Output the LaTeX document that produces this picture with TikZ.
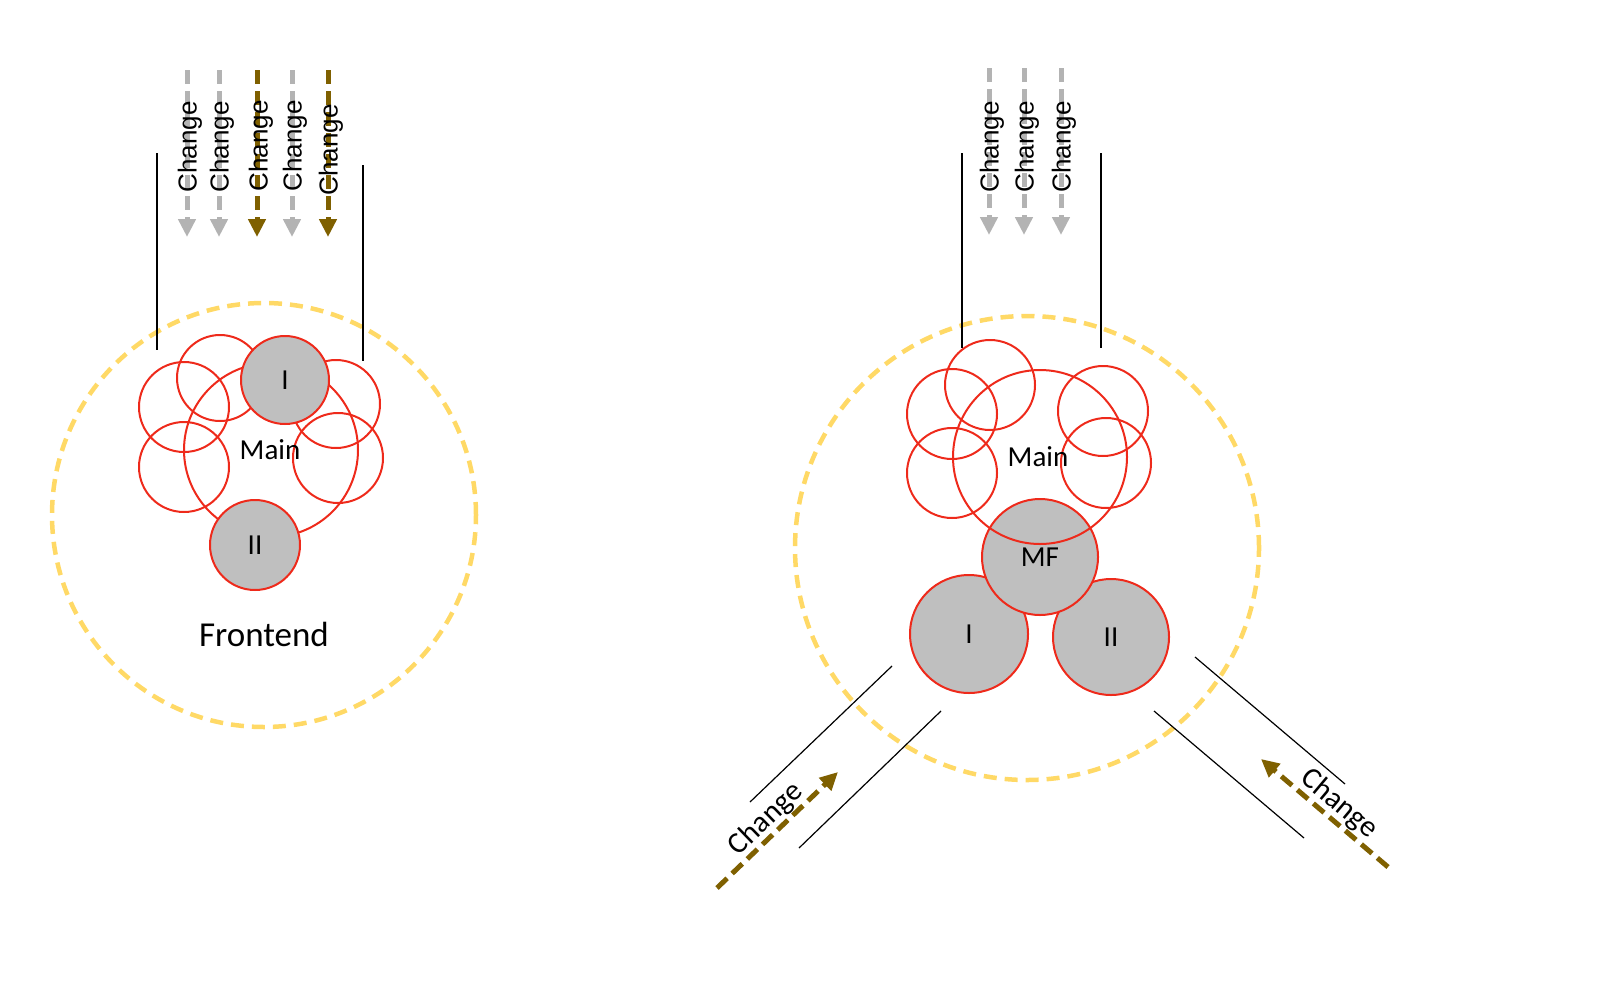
\documentclass[tikz,border=0pt]{standalone}
\usepackage{fontspec}
\setmainfont{Carlito}
\newfontfamily\arialfont{Liberation Sans}
\usetikzlibrary{arrows.meta}
\definecolor{ring}{HTML}{FFD966}
\definecolor{redline}{HTML}{EE2A1B}
\definecolor{fillgray}{HTML}{BFBFBF}
\definecolor{arrowgray}{HTML}{B3B3B3}
\definecolor{chgbrown}{HTML}{7F6000}
\begin{document}
\begin{tikzpicture}[x=1pt,y=-1pt,
  zone/.style={circle, draw=ring, line width=4.5pt, dash pattern=on 13pt off 8pt, inner sep=0pt, minimum size=#1},
  part/.style={circle, draw=redline, line width=2pt, inner sep=0pt, minimum size=#1},
  comp/.style={part=#1, fill=fillgray, font=\fontsize{29}{34}\selectfont},
  lbl/.style={font=\fontsize{29}{34}\selectfont, inner sep=0pt},
  vlbl/.style={font=\arialfont\fontsize{26}{31}\selectfont, inner sep=0pt, rotate=90},
  dlbl/.style={font=\fontsize{30}{36}\selectfont, inner sep=0pt},
  bound/.style={line width=1.2pt, draw=black},
  chg/.style={line width=5pt, dash pattern=on 14pt off 7pt, -{Triangle[width=17pt,length=18pt]}},
  gchg/.style={chg, draw=arrowgray},
  bchg/.style={chg, draw=chgbrown},
]
\useasboundingbox (0,0) rectangle (1600,1004);

% ---------------- left panel ----------------
\node[zone=424pt] (zoneL) at (264,515) {};
\node[font=\fontsize{35}{42}\selectfont, inner sep=0pt] (frontend) at (264,634) {Frontend};

\coordinate (lA1) at (157,153); \coordinate (lA2) at (157,350);
\coordinate (lB1) at (363,165); \coordinate (lB2) at (363,361);
\draw[bound] (lA1) -- (lA2);
\draw[bound] (lB1) -- (lB2);

\foreach \n/\x/\s in {1/187/gchg, 2/219/gchg, 3/257/bchg, 4/292/gchg, 5/328/bchg}{
  \coordinate (lt\n) at (\x,70);
  \coordinate (lh\n) at (\x,237);
  \draw[\s] (lt\n) -- (lh\n);
}
\node[vlbl] (lc1) at (190,147) {Change};
\node[vlbl] (lc2) at (222,147) {Change};
\node[vlbl] (lc3) at (261,146) {Change};
\node[vlbl] (lc4) at (295,146) {Change};
\node[vlbl] (lc5) at (331,150) {Change};

\node[part=174pt] (mainL) at (271,450) {};
\node[part=86pt] (sL1) at (220,378) {};
\node[part=90pt] (sL2) at (184,407) {};
\node[part=90pt] (sL3) at (184,467) {};
\node[part=88pt] (sL4) at (336,404) {};
\node[part=90pt] (sL5) at (338,458) {};
\node[lbl] (mainLtxt) at (270,450) {Main};
\node[comp=88pt] (oneL) at (285,380) {I};
\node[comp=90pt] (twoL) at (255,545) {II};

% ---------------- right panel ----------------
\node[zone=464pt] (zoneR) at (1027,548) {};

\coordinate (rA1) at (962,153); \coordinate (rA2) at (962,348);
\coordinate (rB1) at (1101,153); \coordinate (rB2) at (1101,348);
\draw[bound] (rA1) -- (rA2);
\draw[bound] (rB1) -- (rB2);

\foreach \n/\x in {1/989, 2/1024, 3/1061}{
  \coordinate (rt\n) at (\x,68);
  \coordinate (rh\n) at (\x,235);
  \draw[gchg] (rt\n) -- (rh\n);
}
\node[vlbl] (rc1) at (992,147) {Change};
\node[vlbl] (rc2) at (1027,147) {Change};
\node[vlbl] (rc3) at (1064,147) {Change};

% lower-left entry
\coordinate (dA1) at (750,802); \coordinate (dA2) at (892,666);
\coordinate (dB1) at (799,848); \coordinate (dB2) at (941,711);
\draw[bound] (dA1) -- (dA2);
\draw[bound] (dB1) -- (dB2);
\coordinate (dt) at (717,888); \coordinate (dh) at (838,772);
\draw[bchg] (dt) -- (dh);
\node[dlbl, rotate=44] (dc) at (766,819) {Change};

% lower-right entry
\coordinate (eA1) at (1195,657); \coordinate (eA2) at (1345,784);
\coordinate (eB1) at (1154,711); \coordinate (eB2) at (1304,838);
\draw[bound] (eA1) -- (eA2);
\draw[bound] (eB1) -- (eB2);
\coordinate (et) at (1388,867); \coordinate (eh) at (1261,759);
\draw[bchg] (et) -- (eh);
\node[dlbl, rotate=-40] (ec) at (1339,804) {Change};

\node[comp=118pt] (oneR) at (969,634) {I};
\node[comp=116pt] (twoR) at (1111,637) {II};
\node[comp=116pt] (mfR) at (1040,557) {MF};
\node[part=174pt] (mainR) at (1040,457) {};
\node[part=90pt] (sR1) at (990,385) {};
\node[part=90pt] (sR2) at (952,414) {};
\node[part=90pt] (sR3) at (952,473) {};
\node[part=90pt] (sR4) at (1103,411) {};
\node[part=90pt] (sR5) at (1106,463) {};
\node[lbl] (mainRtxt) at (1038,457) {Main};
\end{tikzpicture}
\end{document}
